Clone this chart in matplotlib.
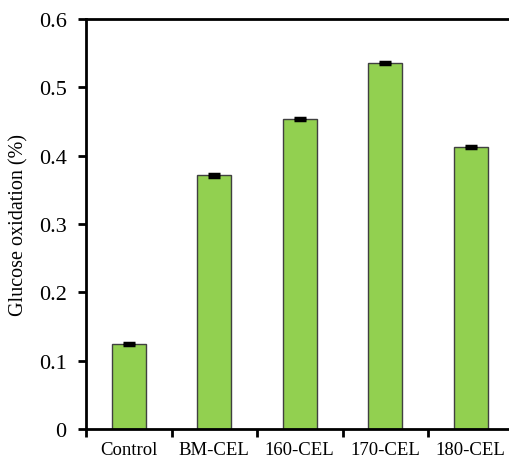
import numpy as np
import matplotlib.pyplot as plt

plt.rcParams['font.family'] = ['Liberation Serif', 'DejaVu Serif']

labels = ['Control', 'BM-CEL', '160-CEL', '170-CEL', '180-CEL']
values = [0.124, 0.371, 0.454, 0.536, 0.412]
errors = [0.0015, 0.0015, 0.0015, 0.0015, 0.0015]

fig = plt.figure(figsize=(5.09, 4.60), dpi=100)
ax = fig.add_axes([86 / 509, 30 / 460, 427.5 / 509, 410 / 460])

x = np.arange(len(labels))
ax.bar(x, values, width=0.4, color='#92D050', edgecolor='#404040', linewidth=1.0,
       yerr=errors, error_kw=dict(ecolor='black', elinewidth=2, capsize=4.5, capthick=2.5))

ax.set_xlim(-0.5, 4.5)
ax.set_ylim(0, 0.6)
ax.set_yticks([0, 0.1, 0.2, 0.3, 0.4, 0.5, 0.6])
ax.set_yticklabels(['0', '0.1', '0.2', '0.3', '0.4', '0.5', '0.6'], fontsize=16)
ax.set_xticks(x)
ax.set_xticklabels(labels, fontsize=13.5)
ax.set_xticks(np.arange(-0.5, 4.6, 1), minor=True)
ax.tick_params(axis='x', which='major', length=0, pad=9)
ax.tick_params(axis='x', which='minor', length=6, width=2, direction='out')
ax.tick_params(axis='y', which='major', length=6, width=2, direction='out', pad=8)
ax.set_ylabel('Glucose oxidation (%)', fontsize=14.5, labelpad=7)

for side in ['left', 'bottom', 'top', 'right']:
    ax.spines[side].set_linewidth(2.0)

fig.savefig('out.png', dpi=100)
